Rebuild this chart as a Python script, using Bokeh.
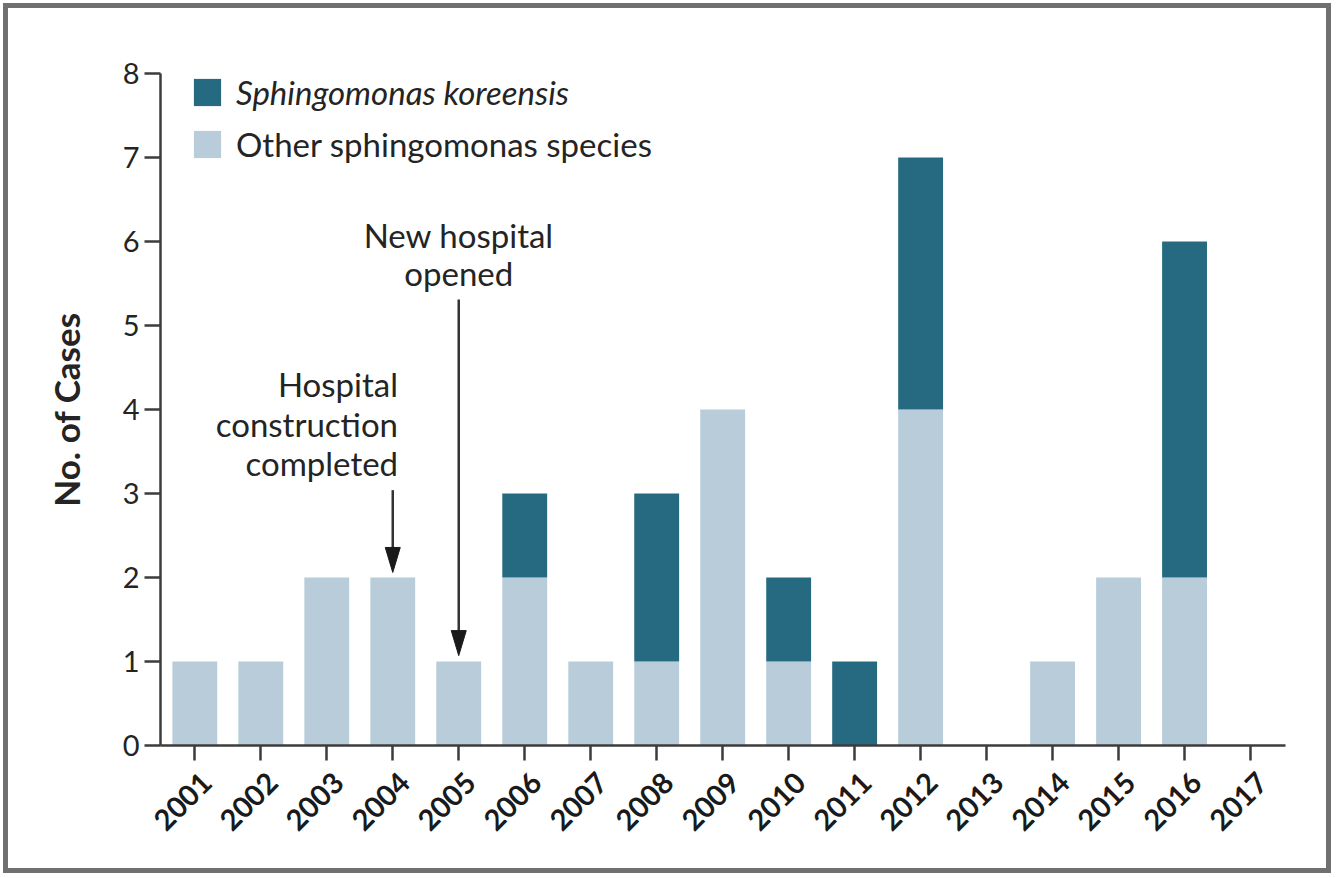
from bokeh.plotting import figure
from bokeh.models import (ColumnDataSource, FixedTicker, Range1d, Legend, LegendItem,
                          LinearAxis, PrintfTickFormatter)
from bokeh.core.properties import value
from bokeh.embed import file_html
from bokeh.resources import INLINE

# ---------------- data ----------------
years = list(range(2001, 2018))
year_labels = [str(y) for y in years]
other_species = [1, 1, 2, 2, 1, 2, 1, 1, 4, 1, 0, 4, 0, 1, 2, 2, 0]
koreensis = [0, 0, 0, 0, 0, 1, 0, 2, 0, 1, 1, 3, 0, 0, 0, 4, 0]
y_ticks = list(range(0, 9))
series_names = ["Sphingomonas koreensis", "Other sphingomonas species"]

# annotations (text lines, anchor in data units)
ann_right_text = ["Hospital", "construction", "completed"]
ann_right_x = [2004.08, 2004.08, 2004.08]
ann_right_y = [4.30, 3.83, 3.36]
ann_center_text = ["New hospital", "opened"]
ann_center_x = [2005.0, 2005.0]
ann_center_y = [6.08, 5.625]
arrow_x = [2004, 2005]
arrow_start = [3.04, 5.31]
arrow_tip = [2.06, 1.07]

DARK = "#256a80"
LIGHT = "#b8cdd9"
TXT = "#242424"
AXC = "#3c3c3c"
FONT = "Lato"

W, H = 1334, 876
ML, MT = 160, 73
FW, FH = 1125, 672
MR, MB = W - ML - FW, H - MT - FH
X0, X1 = 2000.48, 2017.53
px_per_x = FW / (X1 - X0)
px_per_y = FH / 8.0

p = figure(width=W, height=H, output_backend="svg", toolbar_location=None,
           x_range=Range1d(X0, X1), y_range=Range1d(0, 8),
           min_border_left=ML, min_border_right=MR, min_border_top=MT,
           min_border_bottom=MB)
p.outline_line_color = None
p.grid.visible = False
p.background_fill_color = "white"
p.border_fill_alpha = 0
p.styles = {"outline": "5px solid #707070", "outline-offset": "-8px"}

src = ColumnDataSource(dict(year=years, other=other_species, kor=koreensis))
r_other, r_kor = p.vbar_stack(["other", "kor"], x="year", width=0.68,
                              color=[LIGHT, DARK], line_color=None, source=src)

# y axis
ya = p.yaxis[0]
ya.axis_line_color = AXC
ya.axis_line_width = 2.5
ya.major_tick_line_color = AXC
ya.major_tick_line_width = 2.5
ya.major_tick_in = 0
ya.major_tick_out = 16
ya.minor_tick_line_color = None
ya.ticker = FixedTicker(ticks=y_ticks)
ya.major_label_text_color = TXT
ya.major_label_text_font = FONT
ya.major_label_text_font_size = "29px"
ya.major_label_standoff = 5
ya.axis_label = "No. of Cases"
ya.axis_label_text_font = FONT
ya.axis_label_text_font_size = "35px"
ya.axis_label_text_font_style = "bold"
ya.axis_label_text_color = TXT
ya.axis_label_standoff = 33

# main x axis: line + tick marks at each year (as unlabeled minor ticks)
xa = p.xaxis[0]
xa.ticker = FixedTicker(ticks=[], minor_ticks=years)
xa.axis_line_color = AXC
xa.axis_line_width = 2.5
xa.major_tick_out = 15
xa.major_tick_in = 0
xa.minor_tick_out = 15
xa.minor_tick_in = 0
xa.minor_tick_line_color = AXC
xa.minor_tick_line_width = 2.5
xa.major_label_standoff = 0

# label axis: rotated year labels, nudged so their ends sit right of each tick
label_shift = 0.176
xlab = LinearAxis(ticker=FixedTicker(ticks=[y + label_shift for y in years]),
                  formatter=PrintfTickFormatter(format="%d"))
xlab.axis_line_color = None
xlab.major_tick_line_color = None
xlab.minor_tick_line_color = None
xlab.major_tick_out = 0
xlab.major_tick_in = 0
xlab.major_label_orientation = 0.785398
xlab.major_label_text_font = FONT
xlab.major_label_text_font_size = "29px"
xlab.major_label_text_font_style = "bold"
xlab.major_label_text_color = "#1a1a1a"
xlab.major_label_standoff = 17
p.add_layout(xlab, "below")

# annotation text
p.text(x=ann_right_x, y=ann_right_y, text=ann_right_text, text_align="right",
       text_baseline="alphabetic", text_font=value(FONT), text_font_size="33px",
       text_color=TXT)
p.text(x=ann_center_x, y=ann_center_y, text=ann_center_text, text_align="center",
       text_baseline="alphabetic", text_font=value(FONT), text_font_size="33px",
       text_color=TXT)

# arrows: shaft + narrow filled head
head_len = 25 / px_per_y
head_half = 7.5 / px_per_x
p.segment(x0=arrow_x, y0=arrow_start, x1=arrow_x,
          y1=[t + head_len * 0.9 for t in arrow_tip], line_color="#333333", line_width=2.5)
p.patches(xs=[[x - head_half, x, x + head_half] for x in arrow_x],
          ys=[[t + head_len, t, t + head_len] for t in arrow_tip],
          fill_color="#1a1a1a", line_color="#1a1a1a", line_width=1)

# legends (separate, so only the first is italic)
leg1 = Legend(items=[LegendItem(label=series_names[0], renderers=[r_kor])],
              location=(30, 633), orientation="vertical")
leg2 = Legend(items=[LegendItem(label=series_names[1], renderers=[r_other])],
              location=(30, 581), orientation="vertical")
for lg, style in ((leg1, "italic"), (leg2, "normal")):
    lg.label_text_font = FONT
    lg.label_text_font_size = "33px"
    lg.label_text_font_style = style
    lg.label_text_color = TXT
    lg.glyph_width = 34
    lg.glyph_height = 34
    lg.label_standoff = 12
    lg.padding = 0
    lg.margin = 0
    lg.spacing = 0
    lg.background_fill_alpha = 0
    lg.border_line_alpha = 0
    p.add_layout(lg, "center")

open("out.html", "w").write(file_html(p, INLINE))
